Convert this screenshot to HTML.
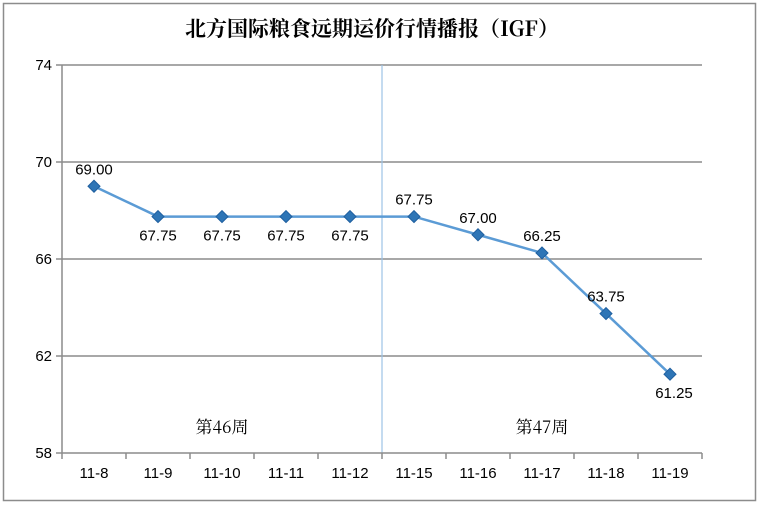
<!DOCTYPE html>
<html><head><meta charset="utf-8"><style>
body{margin:0;background:#fff;}
svg{display:block;font-family:"Liberation Sans","Noto Sans CJK SC",sans-serif;}
</style></head><body>
<svg id="c" width="759" height="506" xmlns="http://www.w3.org/2000/svg">
<rect x="3.5" y="3.5" width="752" height="497" fill="#fff" stroke="#8c8c8c" stroke-width="1.5"/>
<text x="372" y="36" text-anchor="middle" font-size="21" font-weight="bold" font-family="'Noto Serif CJK SC','Liberation Serif',serif" fill="#000">北方国际粮食远期运价行情播报（IGF）</text>
<g id="grid"></g><g id="axes"></g><g id="marks"></g>
</svg>
<script>
const categories=["11-8","11-9","11-10","11-11","11-12","11-15","11-16","11-17","11-18","11-19"];
const values=[69.00,67.75,67.75,67.75,67.75,67.75,67.00,66.25,63.75,61.25];
const yTicks=[58,62,66,70,74];
const weekLabels=["第46周","第47周"];
const ns="http://www.w3.org/2000/svg";
const X0=62,X1=702,Y0=453,Y1=65,YMIN=58,YMAX=74;
const band=(X1-X0)/categories.length;
const xs=i=>X0+band*(i+0.5);
const ys=v=>Y0-(v-YMIN)/(YMAX-YMIN)*(Y0-Y1);
function mk(t,a,p){const e=document.createElementNS(ns,t);for(const k in a)e.setAttribute(k,a[k]);(p||document.getElementById('c')).appendChild(e);return e;}
const grid=document.getElementById('grid'),axes=document.getElementById('axes'),marks=document.getElementById('marks');
yTicks.forEach(t=>{
 const y=ys(t);
 if(t!==YMIN){const g=mk('line',{x1:X0,x2:X1,y1:y,y2:y,stroke:'#8c8c8c','stroke-width':1.5},grid);
 
 }
 const tk=mk('line',{x1:X0-6,x2:X0,y1:y,y2:y,stroke:'#8c8c8c','stroke-width':1.5},axes);
 
 
 const l=mk('text',{x:X0-10,y:y+5,'text-anchor':'end','font-size':15,fill:'#000'},axes);l.textContent=t;
 
 
});
const ya=mk('line',{x1:X0,x2:X0,y1:Y1,y2:Y0,stroke:'#8c8c8c','stroke-width':1.5},axes);


const xa=mk('line',{x1:X0,x2:X1,y1:Y0,y2:Y0,stroke:'#8c8c8c','stroke-width':1.5},axes);


for(let i=0;i<=categories.length;i++){
 const x=X0+band*i;
 const t=mk('line',{x1:x,x2:x,y1:Y0,y2:Y0+6,stroke:'#8c8c8c','stroke-width':1.5},axes);
 
 
}
categories.forEach((c,i)=>{
 const l=mk('text',{x:xs(i),y:Y0+25,'text-anchor':'middle','font-size':15,fill:'#000'},axes);l.textContent=c;
 
 
});
const dx=X0+band*5;
const dv=mk('line',{x1:dx,x2:dx,y1:Y1,y2:Y0,stroke:'#9dc3e6','stroke-width':1.2},grid);


weekLabels.forEach((w,k)=>{
 const l=mk('text',{x:xs(k*5+2),y:433,'text-anchor':'middle','font-size':17,fill:'#000','font-family':"'Noto Serif CJK SC',serif"},axes);l.textContent=w;
 
 
});
const pl=mk('polyline',{points:values.map((v,i)=>xs(i)+','+ys(v)).join(' '),fill:'none',stroke:'#5b9bd5','stroke-width':2.5},marks);


values.forEach((v,i)=>{
 const x=xs(i),y=ys(v);
 const d=mk('polygon',{points:`${x},${y-6} ${x+6},${y} ${x},${y+6} ${x-6},${y}`,fill:'#2e75b6',stroke:'#1f5f9f','stroke-width':1},marks);
 
 
 const above=(i===0||i>=5&&i<=8);
 const ly=above?y-12:y+24;
 const lx=(i===9)?x+4:x;
 const l=mk('text',{x:lx,y:ly,'text-anchor':'middle','font-size':15,fill:'#000'},marks);l.textContent=v.toFixed(2);
 
 
});
</script>
</body></html>
